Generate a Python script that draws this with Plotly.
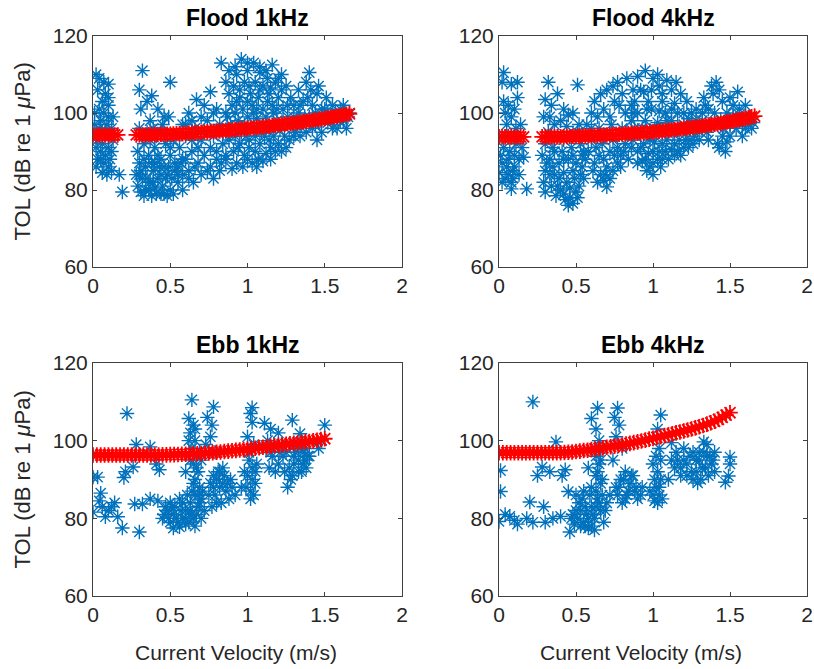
import plotly.graph_objects as go

# ---------------- data ----------------
panel_titles = ["Flood 1kHz", "Flood 4kHz", "Ebb 1kHz", "Ebb 4kHz"]
x_ticks = [0, 0.5, 1, 1.5, 2]
x_tick_labels = ["0", "0.5", "1", "1.5", "2"]
y_ticks = [60, 80, 100, 120]
y_tick_labels = ["60", "80", "100", "120"]
y_label = "TOL (dB re 1 <i>μ</i>Pa)"
x_label = "Current Velocity (m/s)"

flood_1k_obs = [
    (0.02,110),(0.04,109),(0.03,106),(0.1,107.5),(0.08,105),(0.06,103),(0.1,102),(0.07,100),(0.1,99),
    (0.05,98),(0.09,97),(0.12,96),(0.03,93),(0.06,92),(0.1,91),(0.02,91),(0.05,90),(0.08,89),(0.11,88),
    (0.03,88),(0.07,87),(0.1,86),(0.06,84.5),(0.12,85),(0.17,84),(0.19,79.5),(0.01,95),(0.13,93),(0.04,96),
    (0.01,100),(0.04,101),(0.08,95),(0.11,94),(0.06,95),(0.02,86),(0.09,84),(0.05,88),(0.12,90),(0.07,108),
    (0.1,104),(0.01,97),(0.13,99),
    (0.32,111),(0.5,108),(0.3,106),(0.38,104.5),(0.35,103),(0.31,101),(0.42,101),(0.49,99),(0.45,97),
    (0.37,98),(0.3,96),(0.33,92),(0.4,91),(0.47,92),(0.52,93),(0.29,90),(0.36,89),(0.44,88),(0.5,89),
    (0.3,87),(0.34,86),(0.39,85),(0.46,86),(0.53,87),(0.28,84),(0.32,83),(0.37,82),(0.42,83),(0.48,84),
    (0.29,81),(0.34,80),(0.4,80.5),(0.45,81),(0.5,80),(0.48,78.5),(0.44,79),(0.55,82),(0.58,80),(0.31,79.5),
    (0.38,78.5),(0.53,85),(0.41,94),(0.35,95),
    (0.31,85),(0.35,83),(0.39,82),(0.43,86),(0.47,83),(0.51,83),(0.33,88),(0.38,87),(0.42,89),(0.49,86),
    (0.36,80),(0.41,79),(0.46,79),(0.52,79),(0.33,78.5),(0.3,84),(0.44,84),(0.5,91),(0.4,87),(0.55,84),
    (0.57,87),(0.37,93),(0.44,95),(0.39,96),(0.46,99),
    (0.67,103.5),(0.76,105.5),(0.72,102),(0.62,100),(0.8,101),(0.58,97),(0.66,96),(0.74,98),(0.82,97),
    (0.6,94),(0.7,93),(0.78,94),(0.84,92),(0.56,91),(0.64,90),(0.72,89),(0.8,90),(0.58,88),(0.68,87),
    (0.76,86),(0.83,87),(0.62,85),(0.7,84),(0.78,83),(0.65,82),(0.55,86),(0.86,89),
    (0.6,97),(0.64,93),(0.68,91),(0.72,95),(0.76,91),(0.8,88),(0.84,95),(0.6,88),(0.66,86),(0.74,85),
    (0.82,85),(0.7,99),(0.78,100),(0.86,100),(0.64,98),(0.86,95),(0.62,83),(0.58,84),
    (0.83,113),(0.96,114),(1.04,113),(1.16,112.5),(0.88,111),(0.93,110),(1.0,111),(1.08,110.5),(1.12,111),
    (1.22,110),(0.86,108),(0.91,107),(0.98,108),(1.05,108),(1.1,107),(1.18,108),(1.25,107),(0.88,105),
    (0.95,104),(1.02,105),(1.07,104),(1.14,105),(1.2,104),(1.28,104),(0.9,102),(0.97,101),(1.03,102),
    (1.1,101),(1.16,102),(1.23,101),(1.3,102),(0.87,99),(0.94,98),(1.0,99),(1.06,98.5),(1.12,99),(1.19,98),
    (1.26,99),(0.9,96),(0.96,95),(1.02,96),(1.09,95),(1.15,96),(1.21,95.5),(0.88,93),(0.95,92),(1.01,93),
    (1.08,92),(1.14,93),(1.2,92),(1.27,93),(0.91,90),(0.98,89),(1.05,90),(1.12,89.5),(1.18,90),(0.93,87),
    (0.97,86),(1.03,87),(1.1,87.5),(0.86,88),(1.15,88),
    (0.92,112),(1.0,113),(1.08,112),(1.13,109),(1.2,109),(0.95,106),(1.01,107),(1.08,106),(1.15,106.5),
    (1.22,106),(0.93,103),(1.0,103),(1.06,101),(1.13,103),(1.19,101),(1.26,102),(0.92,100),(0.98,97),
    (1.04,100),(1.1,97),(1.17,100),(1.23,97.5),(1.29,97),(0.92,94),(0.99,94),(1.05,94),(1.11,94),(1.17,94),
    (1.24,94),(1.3,94),(0.94,91),(1.01,91),(1.07,88),(1.15,91),(1.22,90),(1.0,88),(0.9,85.5),(1.06,86),
    (1.25,91),(1.3,99),(0.89,97),
    (1.4,110.5),(1.38,108),(1.51,104),(1.33,106),(1.45,105),(1.36,103),(1.42,102),(1.48,101),(1.55,102),
    (1.6,101),(1.33,100),(1.4,99),(1.5,99),(1.57,100),(1.63,100),(1.35,97),(1.44,97),(1.52,97.5),(1.6,98),
    (1.38,95),(1.45,93),(1.64,96),(1.31,95),(1.55,96),(1.65,99),
    (1.34,102),(1.39,104),(1.44,100),(1.47,98),(1.52,100),(1.58,99),(1.62,98),(1.37,99),(1.42,96),(1.48,95),
    (1.56,98),(1.34,94),(1.5,101),(1.62,102),(1.58,96),(1.66,100),(1.41,106),(1.46,107),
]
flood_1k_fit = [
    (0.0,94.3),(0.02,94.3),(0.04,94.3),(0.06,94.3),(0.08,94.3),(0.1,94.3),(0.12,94.3),(0.14,94.3),(0.16,94.3),
    (0.28,94.3),(0.3,94.3),(0.32,94.3),(0.34,94.3),(0.36,94.35),(0.38,94.35),(0.4,94.4),(0.42,94.4),
    (0.44,94.4),(0.46,94.45),(0.48,94.5),(0.5,94.5),(0.52,94.55),(0.54,94.6),(0.56,94.6),(0.58,94.65),
    (0.6,94.7),(0.62,94.75),(0.64,94.8),(0.66,94.85),(0.68,94.9),(0.7,95.0),(0.72,95.05),(0.74,95.1),
    (0.76,95.15),(0.78,95.2),(0.8,95.3),(0.82,95.35),(0.84,95.4),(0.86,95.5),(0.88,95.55),(0.9,95.6),
    (0.92,95.7),(0.94,95.75),(0.96,95.85),(0.98,95.9),(1.0,96.0),(1.02,96.1),(1.04,96.15),(1.06,96.25),
    (1.08,96.3),(1.1,96.4),(1.12,96.5),(1.14,96.6),(1.16,96.7),(1.18,96.8),(1.2,96.9),(1.22,97.0),
    (1.24,97.1),(1.26,97.2),(1.28,97.3),(1.3,97.4),(1.32,97.5),(1.34,97.6),(1.36,97.75),(1.38,97.85),
    (1.4,98.0),(1.42,98.1),(1.44,98.2),(1.46,98.35),(1.48,98.45),(1.5,98.6),(1.52,98.75),(1.54,98.9),
    (1.56,99.0),(1.58,99.15),(1.6,99.3),(1.62,99.5),(1.64,99.65),(1.66,99.8),
]

flood_4k_obs = [
    (0.03,110.5),(0.02,108),(0.12,108),(0.08,107.5),(0.03,103),(0.06,102),(0.1,101),(0.08,99),(0.05,97),
    (0.11,96),(0.14,97),(0.03,91),(0.07,90),(0.1,89),(0.16,88.5),(0.02,87),(0.05,86),(0.09,85),(0.0,84.5),
    (0.04,83),(0.08,82),(0.02,82),(0.13,84),(0.08,80.3),(0.18,80.3),(0.11,92),
    (0.04,100),(0.08,94),(0.1,86),(0.06,84),(0.01,89),(0.13,88),(0.06,88),(0.09,83),(0.15,91),(0.12,104),
    (0.04,94),
    (0.32,108),(0.51,107.3),(0.38,105),(0.3,103.5),(0.34,102),(0.42,101),(0.48,100),(0.29,99),(0.36,97),
    (0.44,96.5),(0.52,97),(0.3,92),(0.35,91),(0.41,90),(0.47,91),(0.53,92),(0.28,89),(0.33,88),(0.39,87),
    (0.45,88),(0.5,87),(0.3,85),(0.36,84),(0.42,84.5),(0.48,85),(0.54,86),(0.29,82),(0.34,81),(0.4,80),
    (0.46,80.5),(0.52,81),(0.37,78.5),(0.43,77.5),(0.48,76.5),(0.51,78),(0.3,79.5),(0.55,83),(0.42,93),
    (0.31,87),(0.35,86),(0.39,83),(0.44,82),(0.49,83),(0.53,84),(0.33,84),(0.38,81),(0.42,79),(0.46,78),
    (0.5,79.5),(0.45,76),(0.36,90),(0.42,88),(0.48,89),(0.54,89),(0.32,95),(0.38,94),(0.47,94),(0.51,95),
    (0.4,98),(0.33,99),(0.45,99.5),(0.55,90),
    (0.77,108),(0.83,109),(0.7,106),(0.8,105),(0.62,103),(0.75,103),(0.6,100),(0.68,101),(0.82,100),
    (0.57,97),(0.65,96),(0.73,97),(0.8,96),(0.6,93),(0.67,92),(0.74,93),(0.82,92),(0.58,90),(0.65,89),
    (0.72,90),(0.79,89),(0.62,87),(0.7,86),(0.77,87),(0.84,88),(0.66,84),(0.72,83),(0.7,80.8),(0.68,82.5),
    (0.56,88),
    (0.6,96),(0.63,91),(0.69,94),(0.77,91),(0.83,95),(0.61,85),(0.68,88),(0.75,89),(0.81,90),(0.86,91),
    (0.74,85),(0.79,86),(0.64,99),(0.72,99),(0.78,102),(0.86,102),(0.66,105),(0.74,107),(0.69,84),(0.64,82),
    (0.95,111),(0.9,109.5),(1.0,109),(1.09,108.5),(1.04,107),(0.87,106),(0.94,105.5),(1.12,106),(1.18,105),
    (0.88,103),(0.97,103),(1.06,103),(1.14,102.5),(1.22,103),(0.9,100),(0.99,101),(1.08,100),(1.16,100),
    (1.25,100),(0.86,98),(0.95,98),(1.03,97.5),(1.12,98),(1.2,97),(1.28,98),(0.88,96),(0.96,95),(1.05,95.5),
    (1.13,95),(1.22,95),(1.29,95.5),(0.87,93),(0.94,92),(1.01,92.5),(1.09,93),(1.17,93),(1.24,93),(0.9,90),
    (0.97,89.5),(1.04,90),(1.12,90.5),(1.2,91),(0.93,87.5),(1.0,87),(1.06,88),(1.14,89),(1.0,84),(0.96,85),
    (0.9,95),(0.98,93),(1.06,92),(1.14,92),(1.21,93),(1.27,94),(0.92,91),(1.0,90),(1.08,90),(1.16,90),
    (1.23,91),(1.3,93),(0.95,88),(1.03,88),(1.1,88),(1.18,89),(1.26,92),(0.9,87),(0.98,86),(1.05,86),
    (0.93,96),(1.01,96),(1.09,96),(1.17,96),(1.25,97),(1.32,96),(0.92,106),(0.99,106),(1.06,105),(1.15,108),
    (1.03,110),(0.96,101),(1.04,100.5),(1.12,101),(1.2,100),(1.28,101),(0.87,100),(1.09,98),(1.23,98.5),
    (1.41,108),(1.38,107),(1.55,105.5),(1.33,104),(1.45,103),(1.52,102),(1.6,102),(1.36,101),(1.48,100),
    (1.56,99.5),(1.63,99),(1.32,98),(1.4,97),(1.5,97),(1.58,97),(1.65,97.5),(1.35,95),(1.45,94),(1.43,91),
    (1.48,92.5),(1.6,96),
    (1.34,102),(1.4,100),(1.44,98),(1.52,99),(1.6,99),(1.37,97),(1.46,96),(1.54,96),(1.62,97),(1.36,93),
    (1.42,92),(1.47,90),(1.5,94),(1.58,94),(1.64,96),(1.39,105),(1.5,104),(1.43,106),(1.56,101),(1.32,100),
]
flood_4k_fit = [
    (0.0,93.8),(0.02,93.8),(0.04,93.8),(0.06,93.8),(0.08,93.8),(0.1,93.8),(0.12,93.8),(0.14,93.8),(0.16,93.8),
    (0.28,93.8),(0.3,93.8),(0.32,93.8),(0.34,93.8),(0.36,93.8),(0.38,93.85),(0.4,93.85),(0.42,93.85),
    (0.44,93.9),(0.46,93.9),(0.48,93.95),(0.5,93.95),(0.52,94.0),(0.54,94.0),(0.56,94.05),(0.58,94.1),
    (0.6,94.1),(0.62,94.15),(0.64,94.2),(0.66,94.2),(0.68,94.25),(0.7,94.3),(0.72,94.35),(0.74,94.4),
    (0.76,94.45),(0.78,94.5),(0.8,94.55),(0.82,94.6),(0.84,94.65),(0.86,94.7),(0.88,94.75),(0.9,94.8),
    (0.92,94.85),(0.94,94.9),(0.96,95.0),(0.98,95.05),(1.0,95.1),(1.02,95.2),(1.04,95.25),(1.06,95.35),
    (1.08,95.4),(1.1,95.5),(1.12,95.6),(1.14,95.7),(1.16,95.8),(1.18,95.9),(1.2,96.0),(1.22,96.1),
    (1.24,96.2),(1.26,96.3),(1.28,96.4),(1.3,96.5),(1.32,96.6),(1.34,96.7),(1.36,96.85),(1.38,96.95),
    (1.4,97.1),(1.42,97.25),(1.44,97.35),(1.46,97.5),(1.48,97.65),(1.5,97.8),(1.52,97.95),(1.54,98.1),
    (1.56,98.25),(1.58,98.4),(1.6,98.6),(1.62,98.8),(1.64,99.0),(1.66,99.2),
]

ebb_1k_obs = [
    (0.0,90.6),(0.03,90.6),(0.0,81.6),(0.05,86.5),(0.04,84.5),(0.08,80.4),(0.06,83),(0.1,82),(0.16,80.4),
    (0.19,77.5),(0.3,76.5),(0.22,107),(0.28,99),(0.2,90.5),(0.21,92),(0.26,93.2),(0.37,98.4),(0.43,92.5),
    (0.41,94),(0.27,83.7),(0.32,83.7),(0.37,85),(0.42,84.5),(0.14,84),(0.12,83),
    (0.45,80),(0.48,82),(0.5,84),(0.52,81),(0.55,79),(0.56,77.8),(0.58,80),(0.6,82),(0.62,79),(0.64,81),
    (0.66,78),(0.68,83),(0.7,80),(0.72,82),(0.5,79),(0.53,83),(0.58,84),(0.63,84),(0.7,85),(0.47,83),
    (0.46,81),(0.49,80),(0.51,83),(0.54,80),(0.57,82),(0.6,80),(0.63,82),(0.65,80),(0.67,81),(0.69,84),
    (0.71,87),(0.56,85),(0.61,86),(0.66,86),(0.52,77.5),(0.6,78.5),(0.68,86),(0.65,89),(0.67,93),(0.63,95),
    (0.69,97),(0.62,100),(0.66,103),
    (0.64,110.5),(0.62,105.7),(0.65,104),(0.63,102),(0.66,100),(0.64,98),(0.67,96),(0.65,94),(0.68,92),
    (0.66,90),(0.69,88),(0.64,87),(0.7,95),(0.6,92),
    (0.78,108.7),(0.74,106),(0.77,104),(0.76,101),(0.73,99),(0.79,97),
    (0.75,86),(0.78,88),(0.8,90),(0.82,92),(0.84,89),(0.86,87),(0.88,85),(0.8,84),(0.77,83),(0.9,88),
    (0.84,93),(0.92,86),
    (0.79,86),(0.82,88),(0.85,91),(0.87,89),(0.81,92),(0.78,91),(0.83,84),(0.89,90),(0.76,89),
    (1.03,108.5),(1.02,107),(1.03,104.7),(1.0,101),(1.04,99),(1.01,95),(1.03,93),(1.0,91),(1.05,89),
    (1.02,87),(0.98,92),(0.96,88),(1.04,86),(1.06,94),
    (1.01,97),(1.03,90),(0.99,88),(1.05,92),(1.02,85),
    (1.11,104.5),(1.15,103),(1.2,102),(1.29,105.3),(1.34,101.8),(1.12,98),(1.16,96),(1.2,94),(1.24,92),
    (1.26,88),(1.28,90),(1.3,96),(1.33,95),(1.36,97),(1.38,93),(1.35,92),(1.32,99),(1.25,97),(1.22,99),
    (1.18,92),(1.14,93),(1.4,96),(1.37,95),(1.3,94),
    (1.13,100),(1.17,99),(1.23,96),(1.27,93),(1.31,97),(1.34,98),(1.37,98),(1.39,96),(1.33,92),(1.29,91),
    (1.21,97),(1.15,97),(1.36,94),(1.27,99),
    (1.5,104),(1.46,98),(1.48,100),
]
ebb_1k_fit = [
    (0.0,96.3),(0.025,96.3),(0.05,96.3),(0.075,96.3),(0.1,96.3),(0.125,96.3),(0.15,96.3),(0.175,96.3),
    (0.2,96.3),(0.225,96.3),(0.25,96.3),(0.275,96.3),(0.3,96.3),(0.325,96.3),(0.35,96.3),(0.375,96.3),
    (0.4,96.3),(0.425,96.3),(0.45,96.35),(0.475,96.35),(0.5,96.4),(0.525,96.4),(0.55,96.45),(0.575,96.5),
    (0.6,96.5),(0.625,96.55),(0.65,96.6),(0.675,96.65),(0.7,96.7),(0.725,96.75),(0.75,96.85),(0.775,96.9),
    (0.8,97.0),(0.825,97.1),(0.85,97.2),(0.875,97.3),(0.9,97.4),(0.925,97.5),(0.95,97.6),(0.975,97.7),
    (1.0,97.8),(1.025,97.9),(1.05,98.05),(1.075,98.2),(1.1,98.3),(1.125,98.4),(1.15,98.55),(1.175,98.7),
    (1.2,98.8),(1.225,98.9),(1.25,99.05),(1.275,99.2),(1.3,99.3),(1.325,99.4),(1.35,99.55),(1.375,99.7),
    (1.4,99.8),(1.425,99.95),(1.45,100.1),(1.475,100.3),(1.5,100.5),
]

ebb_4k_obs = [
    (0.22,110),(0.01,92.3),(0.01,86.9),(0.0,79.2),(0.07,80.5),(0.04,81),(0.1,79.5),(0.12,78.5),(0.2,84.2),
    (0.18,80),(0.22,79),(0.29,83),(0.28,93.2),(0.25,91),(0.37,99.7),(0.33,92),(0.43,92.5),(0.41,91),
    (0.45,86.9),(0.46,76.5),(0.3,79),(0.35,80),(0.4,80.5),
    (0.47,80),(0.5,82),(0.52,84),(0.55,79),(0.57,81),(0.58,77.5),(0.6,83),(0.62,80),(0.64,85),(0.66,82),
    (0.68,79),(0.7,84),(0.5,86),(0.55,87),(0.53,78),(0.62,77),(0.72,86),(0.6,88),
    (0.48,81),(0.51,80),(0.53,82),(0.56,83),(0.58,80),(0.61,81),(0.63,83),(0.65,84),(0.67,86),(0.69,82),
    (0.54,85),(0.59,86),(0.63,87),(0.66,89),(0.65,94),(0.63,96),(0.66,98),(0.6,78),(0.56,78),(0.49,78.5),
    (0.64,108.4),(0.6,105.7),(0.63,103),(0.65,100),(0.62,98),(0.66,95),(0.64,92),(0.67,90),(0.63,91),(0.58,93),
    (0.77,108.4),(0.75,106),(0.78,104),(0.76,101),(0.8,98),(0.74,95),
    (0.76,88),(0.79,90),(0.82,92),(0.85,89),(0.88,87),(0.9,85),(0.83,86),(0.8,84),(0.93,88),(0.87,91),
    (0.78,88),(0.81,90),(0.84,87),(0.86,91),(0.89,88),(0.82,85),(0.77,86),(0.92,86),
    (1.05,106.6),(1.03,103),(1.04,98),(1.02,96),(1.0,94),(1.03,92),(1.05,90),(1.02,88),(1.04,86),(1.01,84.5),
    (0.98,87),(1.06,85),
    (1.01,90),(1.04,88),(1.0,86),(1.03,84),(1.05,95),
    (1.15,97),(1.12,99.5),(1.2,98),(1.29,89.1),(1.33,99.7),(1.3,97),(1.35,96),(1.38,94),(1.32,93),(1.28,95),
    (1.25,92),(1.22,94),(1.18,91),(1.14,93),(1.1,90),(1.36,91),(1.4,92),(1.26,97),
    (1.16,95),(1.2,95),(1.24,96),(1.3,95),(1.33,97),(1.35,99),(1.37,96),(1.39,95),(1.34,93),(1.28,92),
    (1.22,91),(1.31,90),(1.26,90),(1.4,97),(1.12,95),(1.18,93),
    (1.5,95.8),(1.49,90.9),(1.47,89.3),(1.5,94),
]
ebb_4k_fit = [
    (0.0,96.9),(0.025,96.9),(0.05,96.9),(0.075,96.9),(0.1,96.9),(0.125,96.9),(0.15,96.9),(0.175,96.9),
    (0.2,96.9),(0.225,96.9),(0.25,96.9),(0.275,96.9),(0.3,96.9),(0.325,96.9),(0.35,96.9),(0.375,96.9),
    (0.4,96.9),(0.425,96.95),(0.45,97.0),(0.475,97.1),(0.5,97.2),(0.525,97.3),(0.55,97.45),(0.575,97.55),
    (0.6,97.7),(0.625,97.85),(0.65,98.0),(0.675,98.15),(0.7,98.3),(0.725,98.45),(0.75,98.6),(0.775,98.75),
    (0.8,98.9),(0.825,99.1),(0.85,99.3),(0.875,99.5),(0.9,99.7),(0.925,99.9),(0.95,100.15),(0.975,100.4),
    (1.0,100.6),(1.025,100.85),(1.05,101.05),(1.075,101.3),(1.1,101.5),(1.125,101.75),(1.15,102.0),
    (1.175,102.25),(1.2,102.5),(1.225,102.75),(1.25,103.0),(1.275,103.3),(1.3,103.6),(1.325,103.9),
    (1.35,104.25),(1.375,104.6),(1.4,105.0),(1.425,105.5),(1.45,106.0),(1.475,106.6),(1.5,107.2),
]

panel_obs = [flood_1k_obs, flood_4k_obs, ebb_1k_obs, ebb_4k_obs]
panel_fit = [flood_1k_fit, flood_4k_fit, ebb_1k_fit, ebb_4k_fit]

# ---------------- styling ----------------
W, H = 814, 669
BLUE = "#0072BD"
RED = "#FF0000"
AX = "#404040"
TXT = "#262626"
FONT = "Liberation Sans, Arial, sans-serif"

def px(xp):
    return xp / W

def py(yp):
    return 1 - yp / H

# plot-area boxes in window pixels (left, right, top, bottom)
boxes = [(93, 402, 36, 267), (499, 807, 36, 267), (93, 402, 363, 596), (499, 807, 363, 596)]

fig = go.Figure()
layout = dict(
    width=W, height=H, margin=dict(l=0, r=0, t=0, b=0, pad=0, autoexpand=False),
    autosize=False,
    paper_bgcolor="white", plot_bgcolor="white", showlegend=False,
    font=dict(family=FONT, color=TXT, size=21),
)
annotations = []
for i in range(4):
    l, r, t, b = boxes[i]
    xs = [p[0] for p in panel_obs[i]]
    ys = [p[1] for p in panel_obs[i]]
    fx = [p[0] for p in panel_fit[i]]
    fy = [p[1] for p in panel_fit[i]]
    xa = "x" if i == 0 else f"x{i+1}"
    ya = "y" if i == 0 else f"y{i+1}"
    fig.add_trace(go.Scatter(
        x=xs, y=ys, mode="markers", xaxis=xa, yaxis=ya, hoverinfo="skip",
        marker=dict(symbol="asterisk-open", size=12, color=BLUE, line=dict(color=BLUE, width=1.4)),
    ))
    fig.add_trace(go.Scatter(
        x=fx, y=fy, mode="markers", xaxis=xa, yaxis=ya, hoverinfo="skip",
        marker=dict(symbol="asterisk-open", size=13, color=RED, line=dict(color=RED, width=1.8)),
    ))
    axis_common = dict(
        showgrid=False, zeroline=False, showline=True, linecolor=AX, linewidth=1,
        mirror="ticks", ticks="inside", ticklen=4, tickcolor=AX, tickwidth=1, automargin=False,
        tickfont=dict(family=FONT, color=TXT, size=21),
    )
    layout["xaxis" if i == 0 else f"xaxis{i+1}"] = dict(
        axis_common, domain=[px(l), px(r)], anchor=ya, range=[0, 2],
        tickmode="array", tickvals=x_ticks, ticktext=x_tick_labels,
    )
    layout["yaxis" if i == 0 else f"yaxis{i+1}"] = dict(
        axis_common, domain=[py(b), py(t)], anchor=xa, range=[60, 120],
        tickmode="array", tickvals=y_ticks, ticktext=y_tick_labels,
    )
    annotations.append(dict(
        text=f"<b>{panel_titles[i]}</b>", x=px((l + r) / 2), y=py(t - 18),
        xref="paper", yref="paper", showarrow=False, xanchor="center", yanchor="middle",
        font=dict(family=FONT, size=23, color="black"),
    ))
    if i in (0, 2):
        annotations.append(dict(
            text=y_label, x=px(22), y=py((t + b) / 2), xref="paper", yref="paper",
            showarrow=False, textangle=-90, xanchor="center", yanchor="middle",
            font=dict(family=FONT, size=22, color=TXT),
        ))
    if i in (2, 3):
        annotations.append(dict(
            text=x_label, x=px((l + r) / 2 - 12), y=py(652), xref="paper", yref="paper",
            showarrow=False, xanchor="center", yanchor="middle",
            font=dict(family=FONT, size=21, color=TXT),
        ))

layout["annotations"] = annotations
fig.update_layout(**layout)
# remove the page's default body margin so the figure fills the window exactly
fig.write_html(
    "out.html",
    config={"displayModeBar": False, "staticPlot": True},
    post_script="document.body.style.margin='0';document.body.style.padding='0';",
)
